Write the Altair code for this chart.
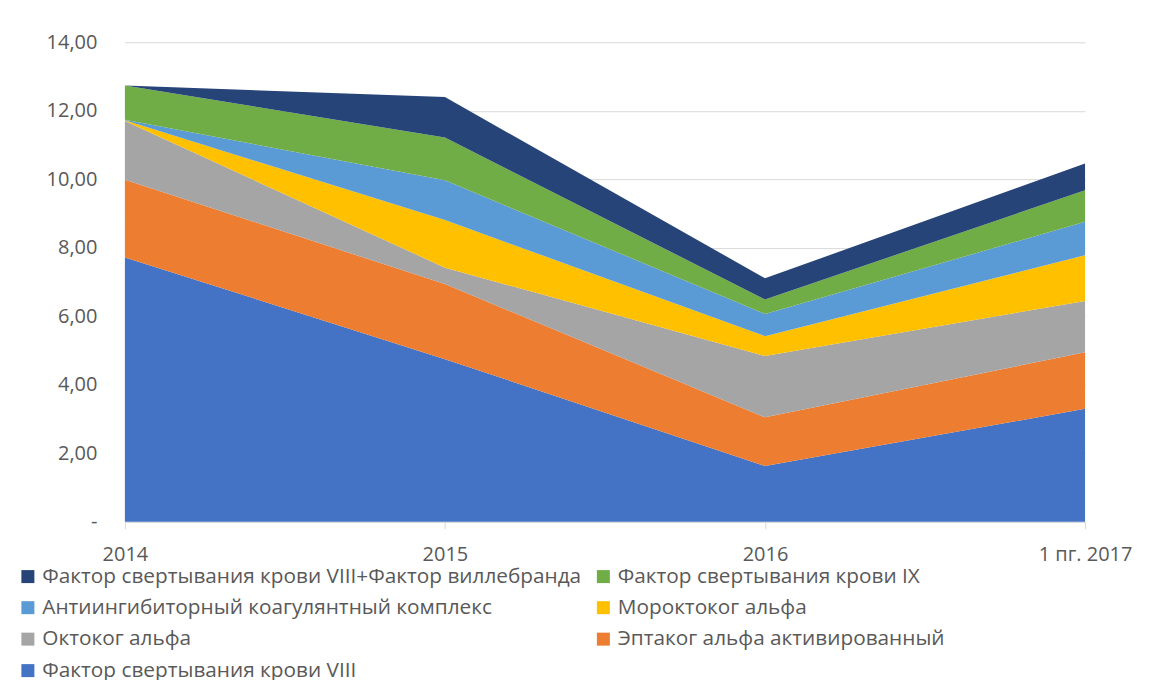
import altair as alt
import pandas as pd

years = ["2014", "2015", "2016", "1 пг. 2017"]

# series listed bottom -> top of the stack
names = [
    "Фактор свертывания крови VIII",
    "Эптаког альфа активированный",
    "Октоког альфа",
    "Мороктоког альфа",
    "Антиингибиторный коагулянтный комплекс",
    "Фактор свертывания крови IX",
    "Фактор свертывания крови VIII+Фактор виллебранда",
]
colors = ["#4472C4", "#ED7D31", "#A5A5A5", "#FFC000", "#5B9BD5", "#70AD47", "#264478"]

f8 = [7.72, 4.75, 1.63, 3.30]
eptacog = [2.27, 2.19, 1.42, 1.65]
octocog = [1.71, 0.48, 1.79, 1.50]
moroctocog = [0.02, 1.39, 0.58, 1.33]
aikk = [0.02, 1.16, 0.65, 0.98]
f9 = [1.00, 1.25, 0.42, 0.92]
f8_vwf = [0.00, 1.18, 0.62, 0.78]
values = [f8, eptacog, octocog, moroctocog, aikk, f9, f8_vwf]

rows = []
for i, (name, vals) in enumerate(zip(names, values)):
    for y, v in zip(years, vals):
        rows.append({"year": y, "series": name, "value": v, "order": i})
df = pd.DataFrame(rows)

legend_order = names[::-1]
legend_colors = colors[::-1]

FONT = "Open Sans"
GREY = "#595959"

chart = alt.Chart(df).mark_area(opacity=1).encode(
    x=alt.X(
        "year:N",
        sort=years,
        scale=alt.Scale(type="point", padding=0),
        axis=alt.Axis(
            title=None, labelAngle=0, domainColor="#D9D9D9", tickColor="#D9D9D9",
            tickSize=7, labelPadding=16, grid=False, labelOverlap=False,
            labelFlush=False,
        ),
    ),
    y=alt.Y(
        "value:Q",
        stack="zero",
        scale=alt.Scale(domain=[0, 14], nice=False),
        axis=alt.Axis(
            title=None, values=[0, 2, 4, 6, 8, 10, 12, 14], domain=False, ticks=False,
            tickSize=0, labelPadding=28, gridColor="#D9D9D9", gridWidth=1,
            labelExpr="datum.value == 0 ? '-' : replace(format(datum.value, '.2f'), '.', ',')",
        ),
    ),
    color=alt.Color(
        "series:N",
        scale=alt.Scale(domain=legend_order, range=legend_colors),
        legend=alt.Legend(
            title=None, orient="none", legendX=-107.5, legendY=524, columns=2,
            direction="horizontal",
            columnPadding=11, rowPadding=9.5, symbolType="square", symbolSize=169,
            symbolStrokeWidth=0, labelOffset=4, labelFontSize=20.8, labelFont=FONT,
            labelColor=GREY, labelLimit=1000, padding=0,
        ),
    ),
    order=alt.Order("order:Q", sort="ascending"),
).properties(
    width=961,
    height=480,
    padding={"left": 117, "top": 34, "right": 60, "bottom": 158},
    autosize=alt.AutoSizeParams(type="none"),
).configure_axis(
    labelFont=FONT, labelFontSize=20, labelColor=GREY,
).configure_view(stroke=None)

chart.save("out.html", embed_options={"renderer": "svg", "actions": False})
